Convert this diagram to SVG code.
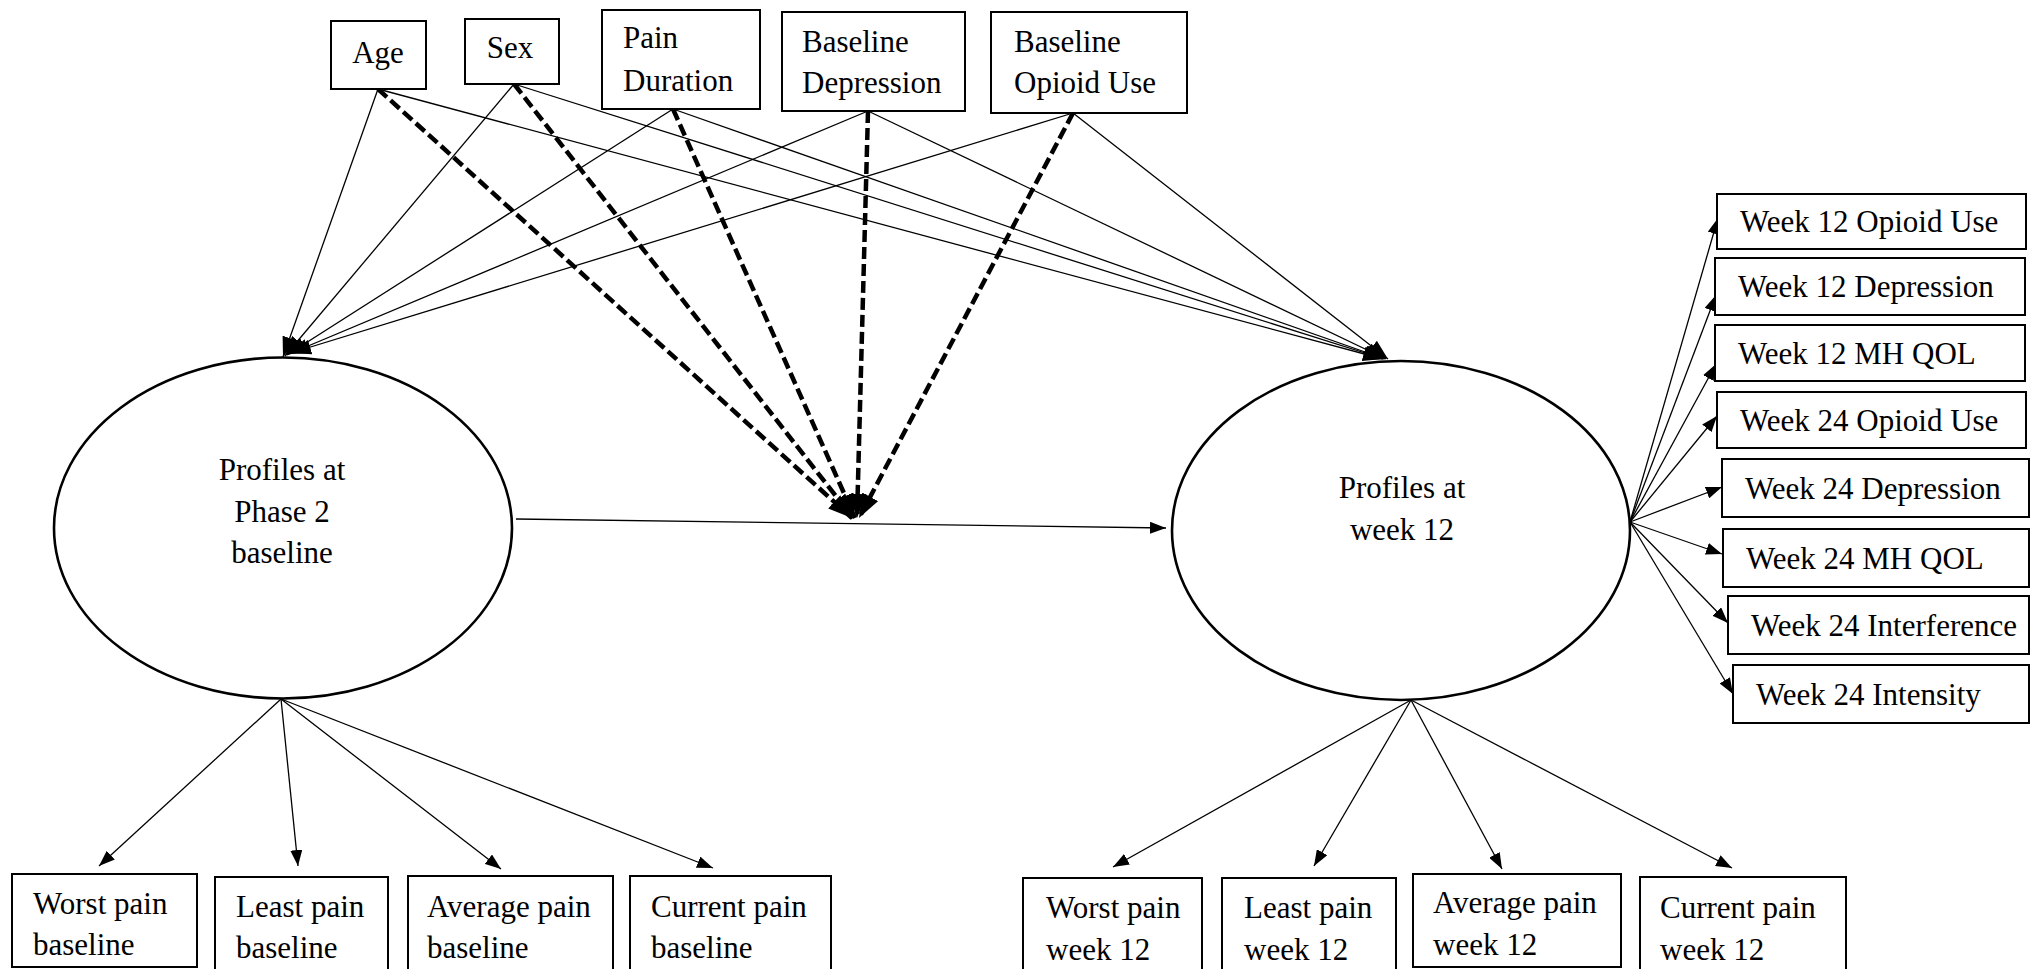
<svg xmlns="http://www.w3.org/2000/svg" width="2030" height="969" viewBox="0 0 2030 969">
<style>
.box{fill:#fff;stroke:#000;stroke-width:2}
.ell{fill:#fff;stroke:#000;stroke-width:2.6}
text{font-family:"Liberation Serif","Times New Roman",serif;font-size:31px;fill:#000}
.c{text-anchor:middle}
.thin{stroke:#000;stroke-width:1.3;fill:none;marker-end:url(#ah)}
.top{stroke:#000;stroke-width:1.3;fill:none;marker-end:url(#ahm)}
.dash{stroke:#000;stroke-width:4.5;fill:none;stroke-dasharray:12 5;marker-end:url(#ahb)}
</style>
<defs>
<marker id="ah" viewBox="0 0 16 12" refX="16" refY="6" markerWidth="16" markerHeight="12" orient="auto" markerUnits="userSpaceOnUse"><path d="M0,0 L16,6 L0,12 z" fill="#000"/></marker>
<marker id="ahm" viewBox="0 0 20 15" refX="20" refY="7.5" markerWidth="20" markerHeight="15" orient="auto" markerUnits="userSpaceOnUse"><path d="M0,0 L20,7.5 L0,15 z" fill="#000"/></marker>
<marker id="ahb" viewBox="0 0 24 18" refX="24" refY="9" markerWidth="24" markerHeight="18" orient="auto" markerUnits="userSpaceOnUse"><path d="M0,0 L24,9 L0,18 z" fill="#000"/></marker>
</defs>
<rect width="2030" height="969" fill="#fff"/>

<g id="connectors">
<line class="top" x1="378" y1="89" x2="283" y2="357"/>
<line class="top" x1="514" y1="84" x2="285" y2="356"/>
<line class="top" x1="673" y1="109" x2="287" y2="355"/>
<line class="top" x1="868" y1="111" x2="289" y2="354"/>
<line class="top" x1="1073" y1="113" x2="291" y2="353"/>
<line class="top" x1="378" y1="89" x2="1383" y2="359"/>
<line class="top" x1="514" y1="84" x2="1384" y2="359"/>
<line class="top" x1="673" y1="109" x2="1385" y2="359"/>
<line class="top" x1="868" y1="111" x2="1386" y2="359"/>
<line class="top" x1="1073" y1="113" x2="1388" y2="359"/>
<line class="dash" x1="378" y1="89" x2="852" y2="518"/>
<line class="dash" x1="514" y1="84" x2="853" y2="518"/>
<line class="dash" x1="673" y1="109" x2="855" y2="518"/>
<line class="dash" x1="868" y1="111" x2="857" y2="518"/>
<line class="dash" x1="1073" y1="113" x2="859" y2="518"/>
<line class="thin" x1="516" y1="519" x2="1166" y2="528"/>
<line class="thin" x1="281" y1="699" x2="99" y2="866"/>
<line class="thin" x1="281" y1="699" x2="298" y2="866"/>
<line class="thin" x1="281" y1="699" x2="501" y2="869"/>
<line class="thin" x1="281" y1="699" x2="713" y2="868"/>
<line class="thin" x1="1411" y1="700" x2="1113" y2="867"/>
<line class="thin" x1="1411" y1="700" x2="1314" y2="866"/>
<line class="thin" x1="1411" y1="700" x2="1502" y2="869"/>
<line class="thin" x1="1411" y1="700" x2="1732" y2="868"/>
<line class="thin" x1="1630" y1="522" x2="1718" y2="218"/>
<line class="thin" x1="1630" y1="522" x2="1716" y2="295"/>
<line class="thin" x1="1630" y1="522" x2="1716" y2="364"/>
<line class="thin" x1="1630" y1="522" x2="1717" y2="416"/>
<line class="thin" x1="1630" y1="522" x2="1722" y2="487"/>
<line class="thin" x1="1630" y1="522" x2="1722" y2="554"/>
<line class="thin" x1="1630" y1="522" x2="1728" y2="623"/>
<line class="thin" x1="1630" y1="522" x2="1733" y2="694"/>
</g>

<g id="age"><rect class="box" x="331" y="21" width="95" height="68"/><text class="c" x="378" y="63">Age</text></g>
<g id="sex"><rect class="box" x="465" y="19" width="94" height="65"/><text class="c" x="510" y="58">Sex</text></g>
<g id="pain-duration"><rect class="box" x="602" y="10" width="158" height="99"/><text x="623" y="48">Pain</text><text x="623" y="91">Duration</text></g>
<g id="baseline-depression"><rect class="box" x="782" y="12" width="183" height="99"/><text x="802" y="52">Baseline</text><text x="802" y="93">Depression</text></g>
<g id="baseline-opioid"><rect class="box" x="991" y="12" width="196" height="101"/><text x="1014" y="52">Baseline</text><text x="1014" y="93">Opioid Use</text></g>

<g id="profiles-baseline"><ellipse class="ell" cx="283" cy="528" rx="229" ry="170.5"/><text class="c" x="282" y="480">Profiles at</text><text class="c" x="282" y="522">Phase 2</text><text class="c" x="282" y="563">baseline</text></g>
<g id="profiles-week12"><ellipse class="ell" cx="1401" cy="530.5" rx="229" ry="169.5"/><text class="c" x="1402" y="498">Profiles at</text><text class="c" x="1402" y="540">week 12</text></g>

<g id="w12-opioid"><rect class="box" x="1717" y="194" width="309" height="55"/><text x="1740" y="232">Week 12 Opioid Use</text></g>
<g id="w12-depression"><rect class="box" x="1715" y="258" width="310" height="57"/><text x="1738" y="297">Week 12 Depression</text></g>
<g id="w12-mhqol"><rect class="box" x="1715" y="325" width="310" height="56"/><text x="1738" y="364">Week 12 MH QOL</text></g>
<g id="w24-opioid"><rect class="box" x="1717" y="392" width="309" height="56"/><text x="1740" y="431">Week 24 Opioid Use</text></g>
<g id="w24-depression"><rect class="box" x="1722" y="459" width="307" height="58"/><text x="1745" y="499">Week 24 Depression</text></g>
<g id="w24-mhqol"><rect class="box" x="1723" y="529" width="306" height="58"/><text x="1746" y="569">Week 24 MH QOL</text></g>
<g id="w24-interference"><rect class="box" x="1728" y="596" width="301" height="58"/><text x="1751" y="636">Week 24 Interference</text></g>
<g id="w24-intensity"><rect class="box" x="1733" y="665" width="296" height="58"/><text x="1756" y="705">Week 24 Intensity</text></g>

<g id="worst-baseline"><rect class="box" x="12" y="874" width="185" height="93"/><text x="33" y="914">Worst pain</text><text x="33" y="955">baseline</text></g>
<g id="least-baseline"><rect class="box" x="215" y="877" width="173" height="100"/><text x="236" y="917">Least pain</text><text x="236" y="958">baseline</text></g>
<g id="average-baseline"><rect class="box" x="408" y="876" width="205" height="100"/><text x="427" y="917">Average pain</text><text x="427" y="958">baseline</text></g>
<g id="current-baseline"><rect class="box" x="630" y="876" width="201" height="100"/><text x="651" y="917">Current pain</text><text x="651" y="958">baseline</text></g>

<g id="worst-w12"><rect class="box" x="1023" y="878" width="179" height="100"/><text x="1046" y="918">Worst pain</text><text x="1046" y="960">week 12</text></g>
<g id="least-w12"><rect class="box" x="1222" y="878" width="174" height="100"/><text x="1244" y="918">Least pain</text><text x="1244" y="960">week 12</text></g>
<g id="average-w12"><rect class="box" x="1413" y="874" width="208" height="93"/><text x="1433" y="913">Average pain</text><text x="1433" y="955">week 12</text></g>
<g id="current-w12"><rect class="box" x="1640" y="877" width="206" height="100"/><text x="1660" y="918">Current pain</text><text x="1660" y="960">week 12</text></g>
</svg>
